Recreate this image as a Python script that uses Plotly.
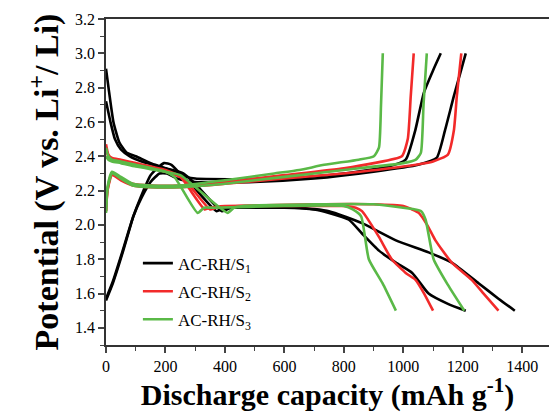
import plotly.graph_objects as go

# ---------------- data (capacity mAh/g, potential V) ----------------
# AC-RH/S1 (black)
s1_dis1_x = [0, 10, 25, 45, 70, 100, 150, 200, 250, 290, 372, 400, 450, 600, 700, 750, 817, 861, 918, 975, 1030, 1085, 1150, 1210]
s1_dis1_y = [2.91, 2.78, 2.60, 2.48, 2.42, 2.40, 2.36, 2.33, 2.29, 2.23, 2.08, 2.10, 2.10, 2.10, 2.09, 2.07, 2.03, 1.95, 1.85, 1.78, 1.72, 1.60, 1.54, 1.50]
s1_dis2_x = [0, 15, 30, 50, 80, 120, 200, 260, 300, 390, 420, 500, 650, 750, 861, 975, 1085, 1163, 1253, 1320, 1375]
s1_dis2_y = [2.72, 2.60, 2.50, 2.44, 2.40, 2.37, 2.33, 2.30, 2.24, 2.08, 2.10, 2.10, 2.10, 2.08, 2.01, 1.91, 1.84, 1.78, 1.66, 1.57, 1.50]
s1_chg1_x = [0, 23, 58, 92, 114, 150, 195, 220, 255, 300, 600, 800, 950, 1008, 1040, 1069, 1100, 1126]
s1_chg1_y = [1.56, 1.66, 1.85, 2.05, 2.15, 2.29, 2.36, 2.35, 2.29, 2.27, 2.27, 2.30, 2.34, 2.38, 2.55, 2.77, 2.90, 3.00]
s1_chg2_x = [0, 23, 58, 92, 120, 150, 180, 205, 240, 300, 500, 700, 900, 1050, 1112, 1140, 1170, 1210]
s1_chg2_y = [1.57, 1.67, 1.86, 2.05, 2.16, 2.25, 2.30, 2.30, 2.27, 2.25, 2.25, 2.27, 2.31, 2.35, 2.39, 2.55, 2.75, 3.00]

# AC-RH/S2 (red)
s2_dis1_x = [0, 8, 20, 50, 100, 200, 250, 332, 350, 400, 600, 800, 840, 861, 918, 961, 1008, 1041, 1070, 1100]
s2_dis1_y = [2.47, 2.41, 2.39, 2.38, 2.36, 2.32, 2.28, 2.09, 2.10, 2.11, 2.11, 2.11, 2.10, 2.08, 1.93, 1.80, 1.72, 1.68, 1.60, 1.50]
s2_dis2_x = [0, 8, 20, 50, 100, 200, 260, 350, 370, 450, 700, 900, 1000, 1030, 1052, 1080, 1108, 1163, 1230, 1270, 1320]
s2_dis2_y = [2.44, 2.40, 2.38, 2.37, 2.35, 2.31, 2.27, 2.09, 2.10, 2.11, 2.12, 2.12, 2.11, 2.09, 2.07, 2.00, 1.91, 1.78, 1.68, 1.60, 1.50]
s2_chg1_x = [0, 5, 20, 50, 90, 150, 250, 400, 600, 800, 901, 995, 1015, 1025, 1035]
s2_chg1_y = [2.08, 2.20, 2.30, 2.27, 2.24, 2.23, 2.23, 2.25, 2.29, 2.33, 2.36, 2.40, 2.50, 2.75, 3.00]
s2_chg2_x = [0, 5, 20, 50, 90, 150, 250, 400, 600, 800, 1000, 1100, 1150, 1170, 1180, 1195]
s2_chg2_y = [2.08, 2.20, 2.29, 2.26, 2.23, 2.22, 2.22, 2.24, 2.27, 2.30, 2.34, 2.37, 2.41, 2.55, 2.75, 3.00]

# AC-RH/S3 (green)
s3_dis1_x = [0, 8, 20, 50, 100, 200, 230, 308, 330, 360, 600, 800, 830, 858, 884, 930, 975]
s3_dis1_y = [2.45, 2.40, 2.38, 2.37, 2.35, 2.31, 2.28, 2.07, 2.10, 2.10, 2.11, 2.11, 2.09, 2.05, 1.80, 1.66, 1.50]
s3_dis2_x = [0, 8, 20, 50, 100, 200, 250, 409, 430, 460, 700, 900, 1040, 1060, 1075, 1102, 1150, 1205]
s3_dis2_y = [2.40, 2.38, 2.37, 2.36, 2.34, 2.31, 2.29, 2.07, 2.10, 2.11, 2.12, 2.12, 2.09, 2.08, 2.03, 1.80, 1.65, 1.50]
s3_chg1_x = [0, 5, 20, 50, 90, 150, 250, 400, 566, 650, 734, 850, 901, 918, 925, 931]
s3_chg1_y = [2.08, 2.22, 2.31, 2.28, 2.24, 2.23, 2.23, 2.26, 2.30, 2.32, 2.35, 2.38, 2.40, 2.45, 2.70, 3.00]
s3_chg2_x = [0, 5, 20, 50, 90, 150, 250, 400, 600, 800, 1000, 1042, 1059, 1068, 1079]
s3_chg2_y = [2.07, 2.21, 2.30, 2.27, 2.23, 2.22, 2.22, 2.24, 2.28, 2.32, 2.36, 2.38, 2.42, 2.70, 3.00]

series_names = ["AC-RH/S<sub>1</sub>", "AC-RH/S<sub>2</sub>", "AC-RH/S<sub>3</sub>"]
series_colors = ["#000000", "#f22a2a", "#5ab947"]
series_curves = [
    [(s1_dis1_x, s1_dis1_y), (s1_dis2_x, s1_dis2_y), (s1_chg1_x, s1_chg1_y), (s1_chg2_x, s1_chg2_y)],
    [(s2_dis1_x, s2_dis1_y), (s2_dis2_x, s2_dis2_y), (s2_chg1_x, s2_chg1_y), (s2_chg2_x, s2_chg2_y)],
    [(s3_dis1_x, s3_dis1_y), (s3_dis2_x, s3_dis2_y), (s3_chg1_x, s3_chg1_y), (s3_chg2_x, s3_chg2_y)],
]

x_ticks = [0, 200, 400, 600, 800, 1000, 1200, 1400]
y_ticks = [1.4, 1.6, 1.8, 2.0, 2.2, 2.4, 2.6, 2.8, 3.0, 3.2]

fig = go.Figure()
for name, color, curves in zip(series_names, series_colors, series_curves):
    for i, (cx, cy) in enumerate(curves):
        fig.add_trace(go.Scatter(
            x=cx, y=cy, mode="lines", name=name,
            line=dict(color=color, width=2.6, shape="spline", smoothing=0.5),
            legendgroup=name, showlegend=(i == 0),
        ))

ff = "Liberation Serif"
fig.update_layout(
    width=549, height=412,
    margin=dict(l=106, r=0, t=19, b=67),
    paper_bgcolor="white", plot_bgcolor="white",
    font=dict(family=ff, size=16, color="black"),
    showlegend=True,
    legend=dict(x=0.072, y=0.305, xanchor="left", yanchor="top",
                font=dict(size=17, family=ff, color="black"), bgcolor="rgba(0,0,0,0)",
                tracegroupgap=3, itemwidth=30),
)
fig.update_xaxes(
    range=[0, 1490], tickvals=x_ticks, ticks="outside", ticklen=6, tickwidth=1.5,
    minor=dict(dtick=100, ticks="outside", ticklen=4, tickwidth=1.2, showgrid=False),
    showline=True, linewidth=1.8, linecolor="#333", mirror=True, showgrid=False, zeroline=False,
    tickfont=dict(size=16, family=ff, color="black"),
    title=dict(text="<b>Discharge capacity (mAh g<sup>-1</sup>)</b>",
               font=dict(size=30, family=ff, color="black"), standoff=4),
)
fig.update_yaxes(
    range=[1.3, 3.2], tickvals=y_ticks, tickformat=".1f", ticks="outside", ticklen=6, tickwidth=1.5,
    minor=dict(dtick=0.1, ticks="outside", ticklen=4, tickwidth=1.2, showgrid=False),
    showline=True, linewidth=1.8, linecolor="#333", showgrid=False, zeroline=False,
    tickfont=dict(size=16, family=ff, color="black"),
    title=dict(text="<b>Potential (V vs. Li<sup>+</sup>/ Li)</b>",
               font=dict(size=34, family=ff, color="black"), standoff=6),
)
fig.write_html("out.html")
